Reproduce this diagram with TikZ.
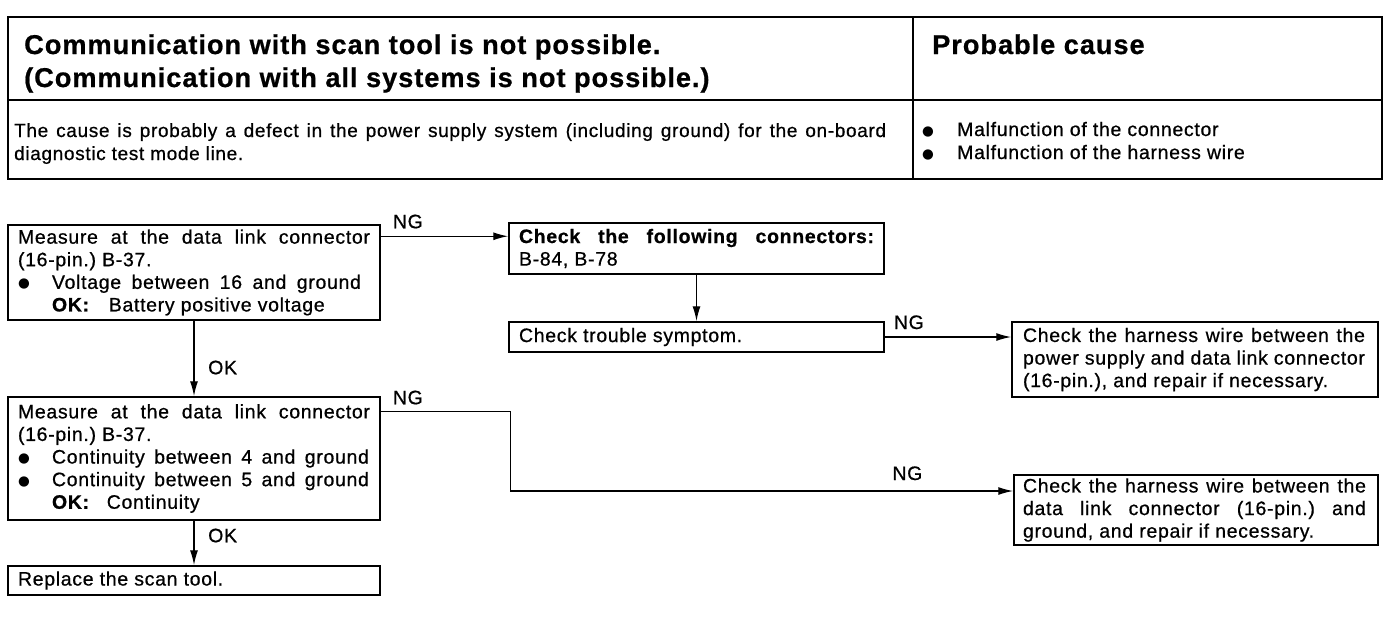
\documentclass[tikz,border=0pt]{standalone}
\usepackage{fontspec}
\setmainfont{Liberation Sans}[LetterSpace=3.5, FakeBold=0.7]
\newfontfamily\dejavu{DejaVu Sans}
\usetikzlibrary{arrows.meta,calc}
\newcommand\nsk{\spaceskip=0pt\xspaceskip=0pt\relax}
\newcommand\bodyf{\fontsize{19.5pt}{22.6pt}\selectfont}
\newcommand\descf{\fontsize{19pt}{23pt}\selectfont}
\newcommand\titlef{\fontsize{27.2pt}{33pt}\selectfont\bfseries}
\newcommand\bul[1]{\makebox[#1][l]{\raisebox{1pt}{\dejavu\fontsize{13.5pt}{13.5pt}\selectfont ●}}}
\newcommand\jl[2]{\makebox[#1][s]{#2}}
\begin{document}
\begin{tikzpicture}[x=1pt,y=-1pt,
  stepbox/.style={draw, line width=1.5pt, inner xsep=10pt, inner ysep=0pt, align=left, font=\bodyf},
  arr/.style={line width=1.4pt, -{Latex[length=15pt,width=8pt]}},
  lbl/.style={font=\bodyf, inner sep=0pt, anchor=base west},
  hdr/.style={inner sep=0pt, anchor=base west}]
\useasboundingbox (0,0) rectangle (1392,622);
% header table
\draw[line width=2.2pt] (8,17) rectangle (1382,179);
\draw[line width=1.2pt] (8,100) -- (1382,100);
\draw[line width=1.2pt] (913,17) -- (913,179);
\node[hdr,font=\titlef] (t1) at (24,54) {Communication with scan tool is not possible.};
\node[hdr,font=\titlef] (t2) at (24,87) {(Communication with all systems is not possible.)};
\node[hdr,font=\titlef] (t3) at (932,54) {Probable cause};
\node[hdr,font=\descf] (d1) at (14,137) {\nsk\jl{872pt}{The cause is probably a defect in the power supply system (including ground) for the on-board}};
\node[hdr,font=\descf] (d2) at (14,160) {diagnostic test mode line.};
\node[hdr,font=\bodyf] (c1) at (922,136) {\bul{35pt}Malfunction of the connector};
\node[hdr,font=\bodyf] (c2) at (922,159) {\bul{35pt}Malfunction of the harness wire};
% flowchart boxes
\node[stepbox, minimum width=372pt, minimum height=95pt, text width=352pt] (A) at (194,272.5)
 {\nsk\jl{352pt}{Measure at the data link connector}\\
  (16-pin.)\ B-37.\\
  \bul{34pt}\jl{309pt}{Voltage between 16 and ground}\\
  \hspace*{34pt}\textbf{OK:}\hspace{19pt}Battery positive voltage};
\node[stepbox, minimum width=375pt, minimum height=51pt, text width=355pt] (B) at (696.5,248.5)
 {\nsk\textbf{\jl{355pt}{Check the following connectors:}}\\ B-84, B-78};
\node[stepbox, minimum width=375pt, minimum height=30pt, text width=355pt] (C) at (696.5,337)
 {\nsk Check trouble symptom.};
\node[stepbox, inner xsep=11pt, minimum width=366pt, minimum height=75pt, text width=344pt] (D) at (1195,359.5)
 {\nsk\jl{342pt}{Check the harness wire between the}\\
  \jl{342pt}{power supply and data link connector}\\
  (16-pin.), and repair if necessary.};
\node[stepbox, minimum width=372pt, minimum height=123pt, text width=352pt] (E) at (194,458.5)
 {\nsk\jl{352pt}{Measure at the data link connector}\\
  (16-pin.)\ B-37.\\
  \bul{34pt}\jl{317pt}{Continuity between 4 and ground}\\
  \bul{34pt}\jl{317pt}{Continuity between 5 and ground}\\
  \hspace*{34pt}\textbf{OK:}\hspace{17pt}Continuity};
\node[stepbox, inner xsep=9pt, minimum width=364pt, minimum height=70pt, text width=346pt] (F) at (1196,510)
 {\nsk\jl{343pt}{Check the harness wire between the}\\
  \jl{343pt}{data link connector (16-pin.)\ and}\\
  ground, and repair if necessary.};
\node[stepbox, minimum width=372pt, minimum height=29pt, text width=352pt] (G) at (194,580.5)
 {\nsk Replace the scan tool.};
% connectors
\coordinate (a1) at ([yshift=-12pt]A.north east);
\draw[arr] (a1) -- (a1 -| B.west);
\node[lbl] (ng1) at ([shift={(12pt,8pt)}]a1) {NG};
\draw[arr] (B.south) -- (C.north);
\draw[arr] (C.east) -- (C.east -| D.west);
\node[lbl] (ng2) at ([shift={(9pt,8pt)}]C.east) {NG};
\draw[arr] (A.south) -- (E.north);
\node[lbl] (ok1) at ([shift={(14pt,22pt)}]E.north) {OK};
\coordinate (e1) at ([yshift=-15pt]E.north east);
\coordinate (e2) at ($(e1)+(130,0)$);
\coordinate (e3) at ([yshift=19pt]F.west);
\draw[arr] (e1) -- (e2) -- (e2 |- e3) -- (e3);
\node[lbl] (ng3) at ([shift={(12pt,7pt)}]e1) {NG};
\node[lbl] (ng4) at ([shift={(-121pt,11pt)}]e3) {NG};
\draw[arr] (E.south) -- (G.north);
\node[lbl] (ok2) at ([shift={(14pt,23pt)}]G.north) {OK};
\end{tikzpicture}
\end{document}
